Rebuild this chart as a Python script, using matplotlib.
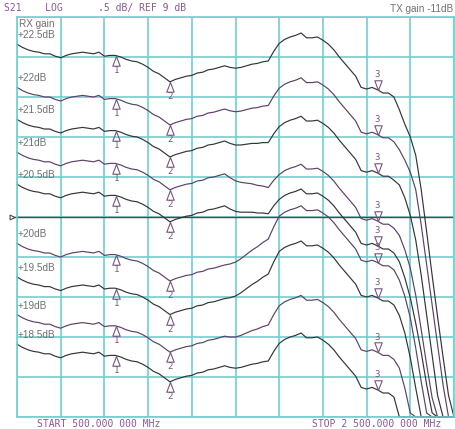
import numpy as np
import matplotlib
matplotlib.use("Agg")
import matplotlib.pyplot as plt
from matplotlib.path import Path
from matplotlib.markers import MarkerStyle

# ---- instrument state -------------------------------------------------------
start_mhz, stop_mhz = 500, 2500
ref_db = 9.0
scale_db_per_div = 0.5
tx_gain_label = "TX gain -11dB"

# sweep points, 25 MHz apart
freq_mhz = np.arange(start_mhz, stop_mhz + 1, 25)

rx_gain_labels = ["+22.5dB", "+22dB", "+21.5dB", "+21dB", "+20.5dB",
                  "+20dB", "+19.5dB", "+19dB", "+18.5dB"]

# S21 of the +22.5 dB setting, 500 ... 2225 MHz (dB)
passband_db = [
    11.16, 11.12, 11.09, 11.07, 11.06, 11.04, 11.04, 11.01, 10.99, 11.02,
    11.04, 11.05, 11.06, 11.05, 11.04, 11.06, 11.01, 11.02, 11.02, 11.00,
    10.97, 10.95, 10.94, 10.91, 10.87, 10.82, 10.79, 10.74, 10.69, 10.72,
    10.74, 10.76, 10.77, 10.80, 10.81, 10.84, 10.85, 10.87, 10.89, 10.87,
    10.86, 10.87, 10.89, 10.91, 10.92, 10.94, 10.95, 11.07, 11.17, 11.22,
    11.25, 11.27, 11.30, 11.24, 11.24, 11.25, 11.21, 11.16, 11.09, 11.00,
    10.92, 10.84, 10.76, 10.62, 10.60, 10.62, 10.59, 10.55, 10.55, 10.50,
]

# how far each setting sits below the +22.5 dB trace (dB), lower / upper band
drop_low_db = [0.00, 0.54, 0.94, 1.35, 1.75, 2.49, 2.91, 3.38, 3.75]
drop_high_db = [0.00, 0.56, 1.04, 1.64, 1.95, 2.16, 2.60, 3.28, 3.75]
# share of the upper-band drop along 500 ... 2225 MHz
upper_band_share = ([0.0] * 39
                    + [0.1, 0.2, 0.3, 0.4, 0.5, 0.6, 0.7, 0.8, 0.9, 1.0]
                    + [1.0] * 21)

# band-edge roll-off, 2250 ... 2500 MHz, one row per setting (dB)
rolloff_db = [
    [10.34, 10.16, 10.00, 9.77, 9.34, 8.81, 8.27, 7.75, 7.25, 6.77, 6.40],
    [9.84, 9.71, 9.56, 9.34, 8.90, 8.40, 7.90, 7.40, 6.90, 6.46, 6.34],
    [9.40, 9.24, 9.02, 8.71, 8.27, 7.77, 7.27, 6.77, 6.40, 6.34, 6.34],
    [8.77, 8.59, 8.36, 8.02, 7.59, 7.15, 6.74, 6.40, 6.34, 6.34, 6.34],
    [8.44, 8.24, 7.99, 7.67, 7.31, 6.90, 6.55, 6.34, 6.34, 6.34, 6.34],
    [8.21, 8.01, 7.74, 7.36, 6.94, 6.55, 6.34, 6.34, 6.34, 6.34, 6.34],
    [7.77, 7.55, 7.24, 6.86, 6.49, 6.34, 6.34, 6.34, 6.34, 6.34, 6.34],
    [7.11, 6.86, 6.55, 6.34, 6.34, 6.34, 6.34, 6.34, 6.34, 6.34, 6.34],
    [6.50, 6.34, 6.34, 6.34, 6.34, 6.34, 6.34, 6.34, 6.34, 6.34, 6.34],
]

marker_mhz = [955, 1200, 2150]

# ---- styling ----------------------------------------------------------------
grid_col = "#6fd0d0"
ann_col = "#8a5a94"
label_col = "#707070"
trace_cols = ["#34343a", "#5e4068"]
marker_col = "#76567f"

W, H = 455, 429
fig = plt.figure(figsize=(W / 100, H / 100), dpi=100)
fig.patch.set_facecolor("white")
ax = fig.add_axes([17 / W, 12 / H, 437 / W, 400 / H])

ylo = ref_db - 5 * scale_db_per_div
yhi = ref_db + 5 * scale_db_per_div
ax.set_xlim(start_mhz, stop_mhz)
ax.set_ylim(ylo, yhi)
ax.set_xticks(np.linspace(start_mhz, stop_mhz, 11))
ax.set_yticks(np.linspace(ylo, yhi, 11))
ax.tick_params(length=0, labelbottom=False, labelleft=False)
ax.grid(True, color=grid_col, lw=1.2, zorder=0)
ax.set_axisbelow(True)
for s in ax.spines.values():
    s.set_color(grid_col)
    s.set_linewidth(1.2)

# reference line with its pointer on the left edge
ax.axhline(ref_db, color="#4a4a4a", lw=1.0, zorder=1.5)
ax.plot([-0.012, 0.0], [ref_db, ref_db], transform=ax.get_yaxis_transform(),
        color="#4a4a4a", lw=1.0, clip_on=False, zorder=1.5)
ax.plot([-0.012], [ref_db], transform=ax.get_yaxis_transform(), marker=">",
        ms=3.5, mfc="white", mec="#4a4a4a", mew=0.8, clip_on=False)

# triangle markers with the tip on the trace
tri_up = MarkerStyle(Path([(0, 0), (-0.38, -1), (0.38, -1), (0, 0)],
                          [Path.MOVETO, Path.LINETO, Path.LINETO, Path.CLOSEPOLY]))
tri_dn = MarkerStyle(Path([(0, 0), (-0.38, 1), (0.38, 1), (0, 0)],
                          [Path.MOVETO, Path.LINETO, Path.LINETO, Path.CLOSEPOLY]))

band = np.asarray(passband_db)
share = np.asarray(upper_band_share)
for k, lab in enumerate(rx_gain_labels):
    body = band - (drop_low_db[k] * (1 - share) + drop_high_db[k] * share)
    s21 = np.concatenate([body, rolloff_db[k]])
    shown = np.clip(s21, ylo, yhi)
    col = trace_cols[k % 2]
    ax.plot(freq_mhz, shown, color=col, lw=0.85, zorder=2, clip_on=False)

    # setting label just above the start of the trace
    ax.annotate(lab, xy=(freq_mhz[0], shown[0]), xytext=(0.3, 6.5),
                textcoords="offset points", ha="left", va="center",
                family="Liberation Sans", fontsize=7.2, color=label_col)

    for n, fm in enumerate(marker_mhz, start=1):
        yv = np.interp(fm, freq_mhz, shown)
        up = n < 3
        ax.plot([fm], [yv], marker=tri_up if up else tri_dn, ms=14,
                mfc="none", mec=marker_col, mew=0.8, zorder=3)
        ax.annotate(str(n), xy=(fm, yv), xytext=(0, -10.6 if up else 10.8),
                    textcoords="offset points", ha="center", va="center",
                    family="DejaVu Sans Mono", fontsize=6.5, color=marker_col)

ax.annotate("RX gain", xy=(freq_mhz[0], np.clip(band[0], ylo, yhi)),
            xytext=(1.3, 14.4), textcoords="offset points", ha="left",
            va="center", family="Liberation Sans", fontsize=7.2, color=label_col)


def mhz_text(f):
    whole = f"{int(f):,}".replace(",", " ")
    return f"{whole}.000 000 MHz"


mono = dict(family="DejaVu Sans Mono", fontsize=7, color=ann_col, va="center")
scale_txt = f"{scale_db_per_div:g}".lstrip("0")
fig.text(4 / W, 1 - 8 / H,
         f"S21    LOG      {scale_txt} dB/ REF {ref_db:g} dB", ha="left", **mono)
fig.text(37 / W, 1 - 424 / H, "START " + mhz_text(start_mhz), ha="left", **mono)
fig.text(441 / W, 1 - 424 / H, "STOP " + mhz_text(stop_mhz), ha="right", **mono)
fig.text(453 / W, 1 - 9 / H, tx_gain_label, ha="right", va="center",
         family="Liberation Sans", fontsize=7.2, color=label_col)

fig.savefig("out.png", dpi=100, facecolor="white")
